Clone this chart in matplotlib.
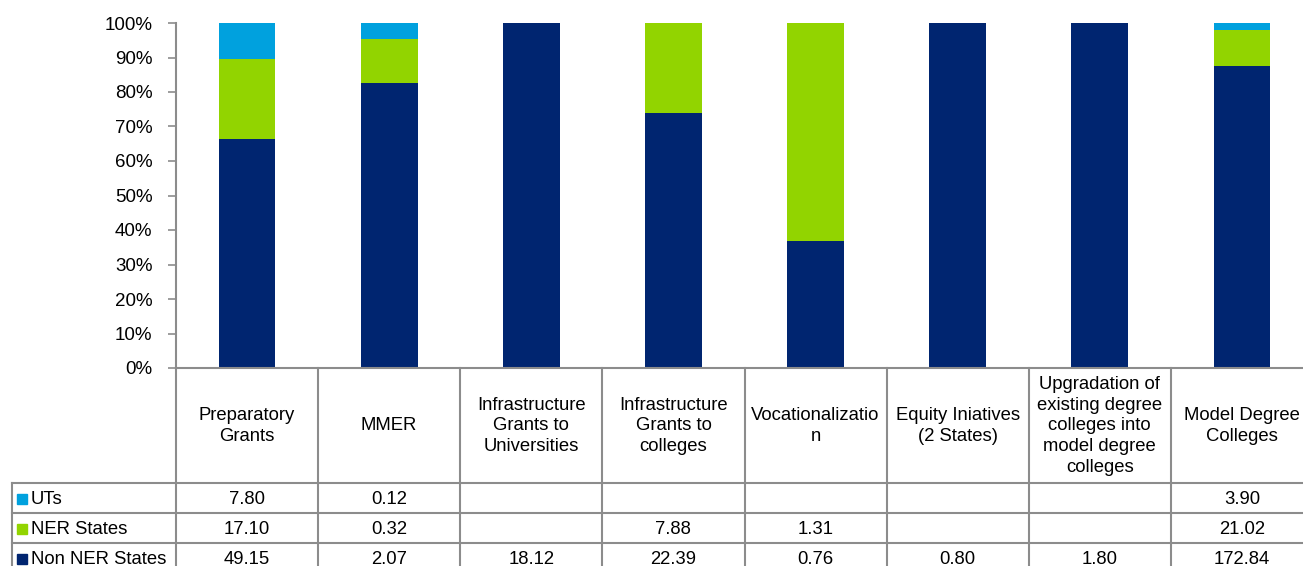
import numpy as np
import matplotlib
matplotlib.use('Agg')
import matplotlib.pyplot as plt
from matplotlib.patches import Rectangle

plt.rcParams['font.family'] = ['Liberation Sans', 'DejaVu Sans']

categories = ['Preparatory\nGrants', 'MMER', 'Infrastructure\nGrants to\nUniversities',
              'Infrastructure\nGrants to\ncolleges', 'Vocationalizatio\nn',
              'Equity Iniatives\n(2 States)',
              'Upgradation of\nexisting degree\ncolleges into\nmodel degree\ncolleges',
              'Model Degree\nColleges']
series = ['UTs', 'NER States', 'Non NER States']
uts = [7.80, 0.12, None, None, None, None, None, 3.90]
ner = [17.10, 0.32, None, 7.88, 1.31, None, None, 21.02]
non_ner = [49.15, 2.07, 18.12, 22.39, 0.76, 0.80, 1.80, 172.84]

col_uts = '#00A1DE'
col_ner = '#92D400'
col_non = '#002570'
grid_col = '#8C8C8C'
fs = 13.3

W, H = 1303, 566
fig = plt.figure(figsize=(W / 100, H / 100), dpi=100)

# plot area in pixels (last column runs past the right edge, as in the original)
x0, x1 = 176, 1313
ytop, ybot = 23, 368
ax = fig.add_axes([x0 / W, 1 - ybot / H, (x1 - x0) / W, (ybot - ytop) / H])

vals = np.array([[v or 0 for v in uts], [v or 0 for v in ner], [v or 0 for v in non_ner]])
tot = vals.sum(axis=0)
pct = vals / tot
x = np.arange(len(categories))
bw = 0.4
ax.bar(x, pct[2], bw, color=col_non, edgecolor='none')
ax.bar(x, pct[1], bw, bottom=pct[2], color=col_ner, edgecolor='none')
ax.bar(x, pct[0], bw, bottom=pct[2] + pct[1], color=col_uts, edgecolor='none')

ax.set_xlim(-0.5, len(categories) - 0.5)
ax.set_ylim(0, 1)
ax.set_yticks(np.arange(0, 1.01, 0.1))
ax.set_yticklabels(['%d%%' % round(v * 100) for v in np.arange(0, 1.01, 0.1)], fontsize=13.5)
ax.set_xticks([])
for s in ['top', 'right']:
    ax.spines[s].set_visible(False)
for s in ['left', 'bottom']:
    ax.spines[s].set_color(grid_col)
    ax.spines[s].set_linewidth(1.5)
ax.tick_params(axis='y', colors=grid_col, length=6, width=1.2, labelcolor='black', pad=11)


# ---- data table below the plot ----
def fx(px):
    return px / W


def fy(py):
    return 1 - py / H


colw = (x1 - x0) / len(categories)
edges = [x0 + i * colw for i in range(len(categories) + 1)]
rows_y = [368, 483, 513, 543, 573]
lw = 1.5

# vertical lines
for e in edges:
    fig.add_artist(plt.Line2D([fx(e), fx(e)], [fy(368), fy(573)], color=grid_col, lw=lw))
fig.add_artist(plt.Line2D([fx(12), fx(12)], [fy(483), fy(573)], color=grid_col, lw=lw))
# horizontal lines
for ry in rows_y[1:4]:
    fig.add_artist(plt.Line2D([fx(12), fx(x1)], [fy(ry), fy(ry)], color=grid_col, lw=lw))

# header
for i, c in enumerate(categories):
    cx = (edges[i] + edges[i + 1]) / 2
    fig.text(fx(cx), fy(426), c, ha='center', va='center',
             fontsize=fs, linespacing=1.28)

# rows
rows = [uts, ner, non_ner]
cols = [col_uts, col_ner, col_non]
for r, (name, data, cc) in enumerate(zip(series, rows, cols)):
    cy = (rows_y[r + 1] + rows_y[r + 2]) / 2 + 1
    fig.add_artist(Rectangle((fx(17), fy(cy + 5)), 10 / W, 10 / H, color=cc,
                             transform=fig.transFigure))
    fig.text(fx(31), fy(cy), name, ha='left', va='center', fontsize=fs)
    for i, v in enumerate(data):
        if v is None:
            continue
        cx = (edges[i] + edges[i + 1]) / 2
        fig.text(fx(cx), fy(cy), '%.2f' % v, ha='center', va='center', fontsize=fs)

fig.savefig('out.png', dpi=100)
